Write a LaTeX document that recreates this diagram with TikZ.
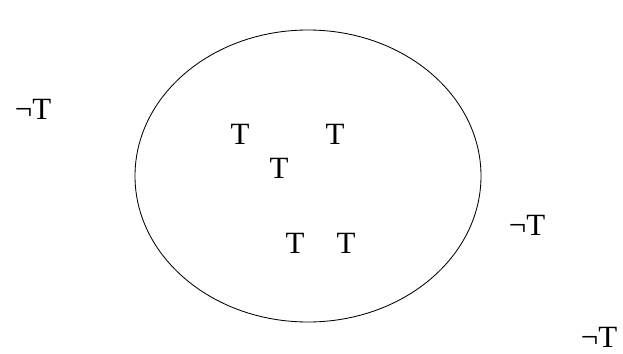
\documentclass[tikz,border=0pt]{standalone}
\usepackage{fontspec}
\setmainfont{Liberation Serif}
\begin{document}
\begin{tikzpicture}[
        x=0.025cm, y=-0.025cm,
        lbl/.style={inner sep=0pt, font=\fontsize{22}{24}\selectfont}
    ]
    \useasboundingbox (0,0) rectangle (623,354);

    % Set
    \draw[line width=0.6pt] (308,176) ellipse [x radius=173, y radius=146];

    % Members
    \node[lbl] (t1) at (240,134) {T};
    \node[lbl] (t2) at (335,134) {T};
    \node[lbl] (t3) at (279,168) {T};
    \node[lbl] (t4) at (295,243) {T};
    \node[lbl] (t5) at (346,243) {T};

    % Non-members
    \node[lbl] (n1) at (33,109) {¬T};
    \node[lbl] (n2) at (527,225) {¬T};
    \node[lbl] (n3) at (599,337) {¬T};
\end{tikzpicture}
\end{document}
